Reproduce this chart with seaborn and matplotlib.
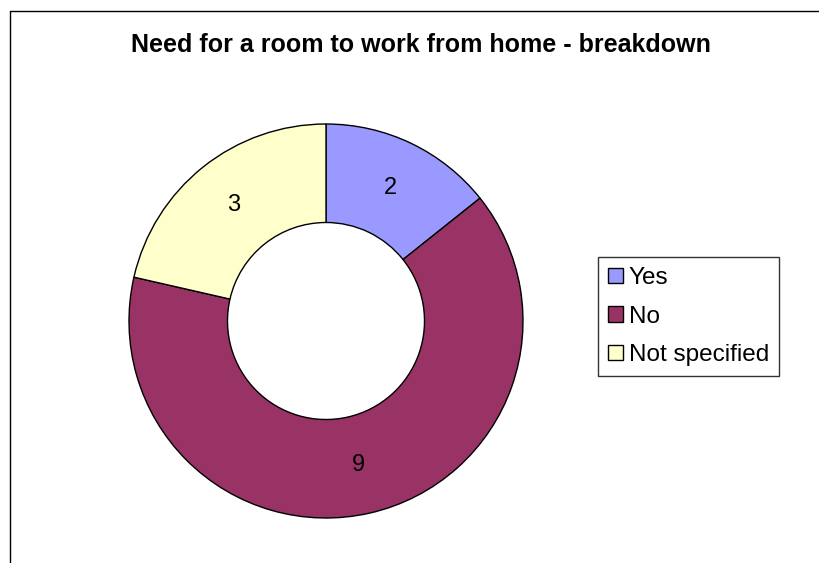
import matplotlib
matplotlib.use('Agg')
import matplotlib.pyplot as plt
import seaborn as sns
from matplotlib.lines import Line2D

categories = ['Yes', 'No', 'Not specified']
counts = [2, 9, 3]
colours = ['#9999FF', '#993366', '#FFFFCC']

sns.set_style('white')
plt.rcParams['font.family'] = ['Liberation Sans', 'DejaVu Sans']
plt.rcParams['text.color'] = 'black'

W, H = 820, 563
fig = plt.figure(figsize=(W / 100, H / 100), dpi=100)

# pie centre / radius in pixels
cx, cy, r = 326, 321, 197
ax = fig.add_axes([(cx - r) / W, (H - cy - r) / H, 2 * r / W, 2 * r / H])

wedges, texts = ax.pie(counts, colors=colours, startangle=90, counterclock=False,
                       labels=[str(c) for c in counts], labeldistance=0.75,
                       wedgeprops=dict(width=0.5, edgecolor='black', linewidth=1),
                       textprops=dict(fontsize=17, color='black'))
for t in texts:
    t.set_ha('center')
    t.set_va('center')
ax.set_xlim(-1, 1)
ax.set_ylim(-1, 1)
ax.set_aspect('equal')
ax.axis('off')

fig.text(421 / W, 1 - 45 / H, 'Need for a room to work from home - breakdown',
         ha='center', va='center', fontsize=18, fontweight='bold', color='black')

leg = fig.legend(wedges, categories, loc='upper left',
                 bbox_to_anchor=(598 / W, 1 - 257 / H), frameon=True, fancybox=False,
                 edgecolor='black', fontsize=17.5, handlelength=0.6, handleheight=0.6,
                 handletextpad=0.25, labelspacing=0.68, borderpad=0.42, borderaxespad=0)
leg.get_frame().set_linewidth(1)
for t in leg.get_texts():
    t.set_color('black')
for h in leg.legend_handles:
    h.set_edgecolor('black')

# chart-area border (only left and top edges visible)
fig.add_artist(Line2D([10.5 / W, 10.5 / W], [0, 1 - 10.5 / H], color='black', lw=1))
fig.add_artist(Line2D([10.5 / W, 1], [1 - 10.5 / H, 1 - 10.5 / H], color='black', lw=1))

fig.savefig('out.png', dpi=100)
